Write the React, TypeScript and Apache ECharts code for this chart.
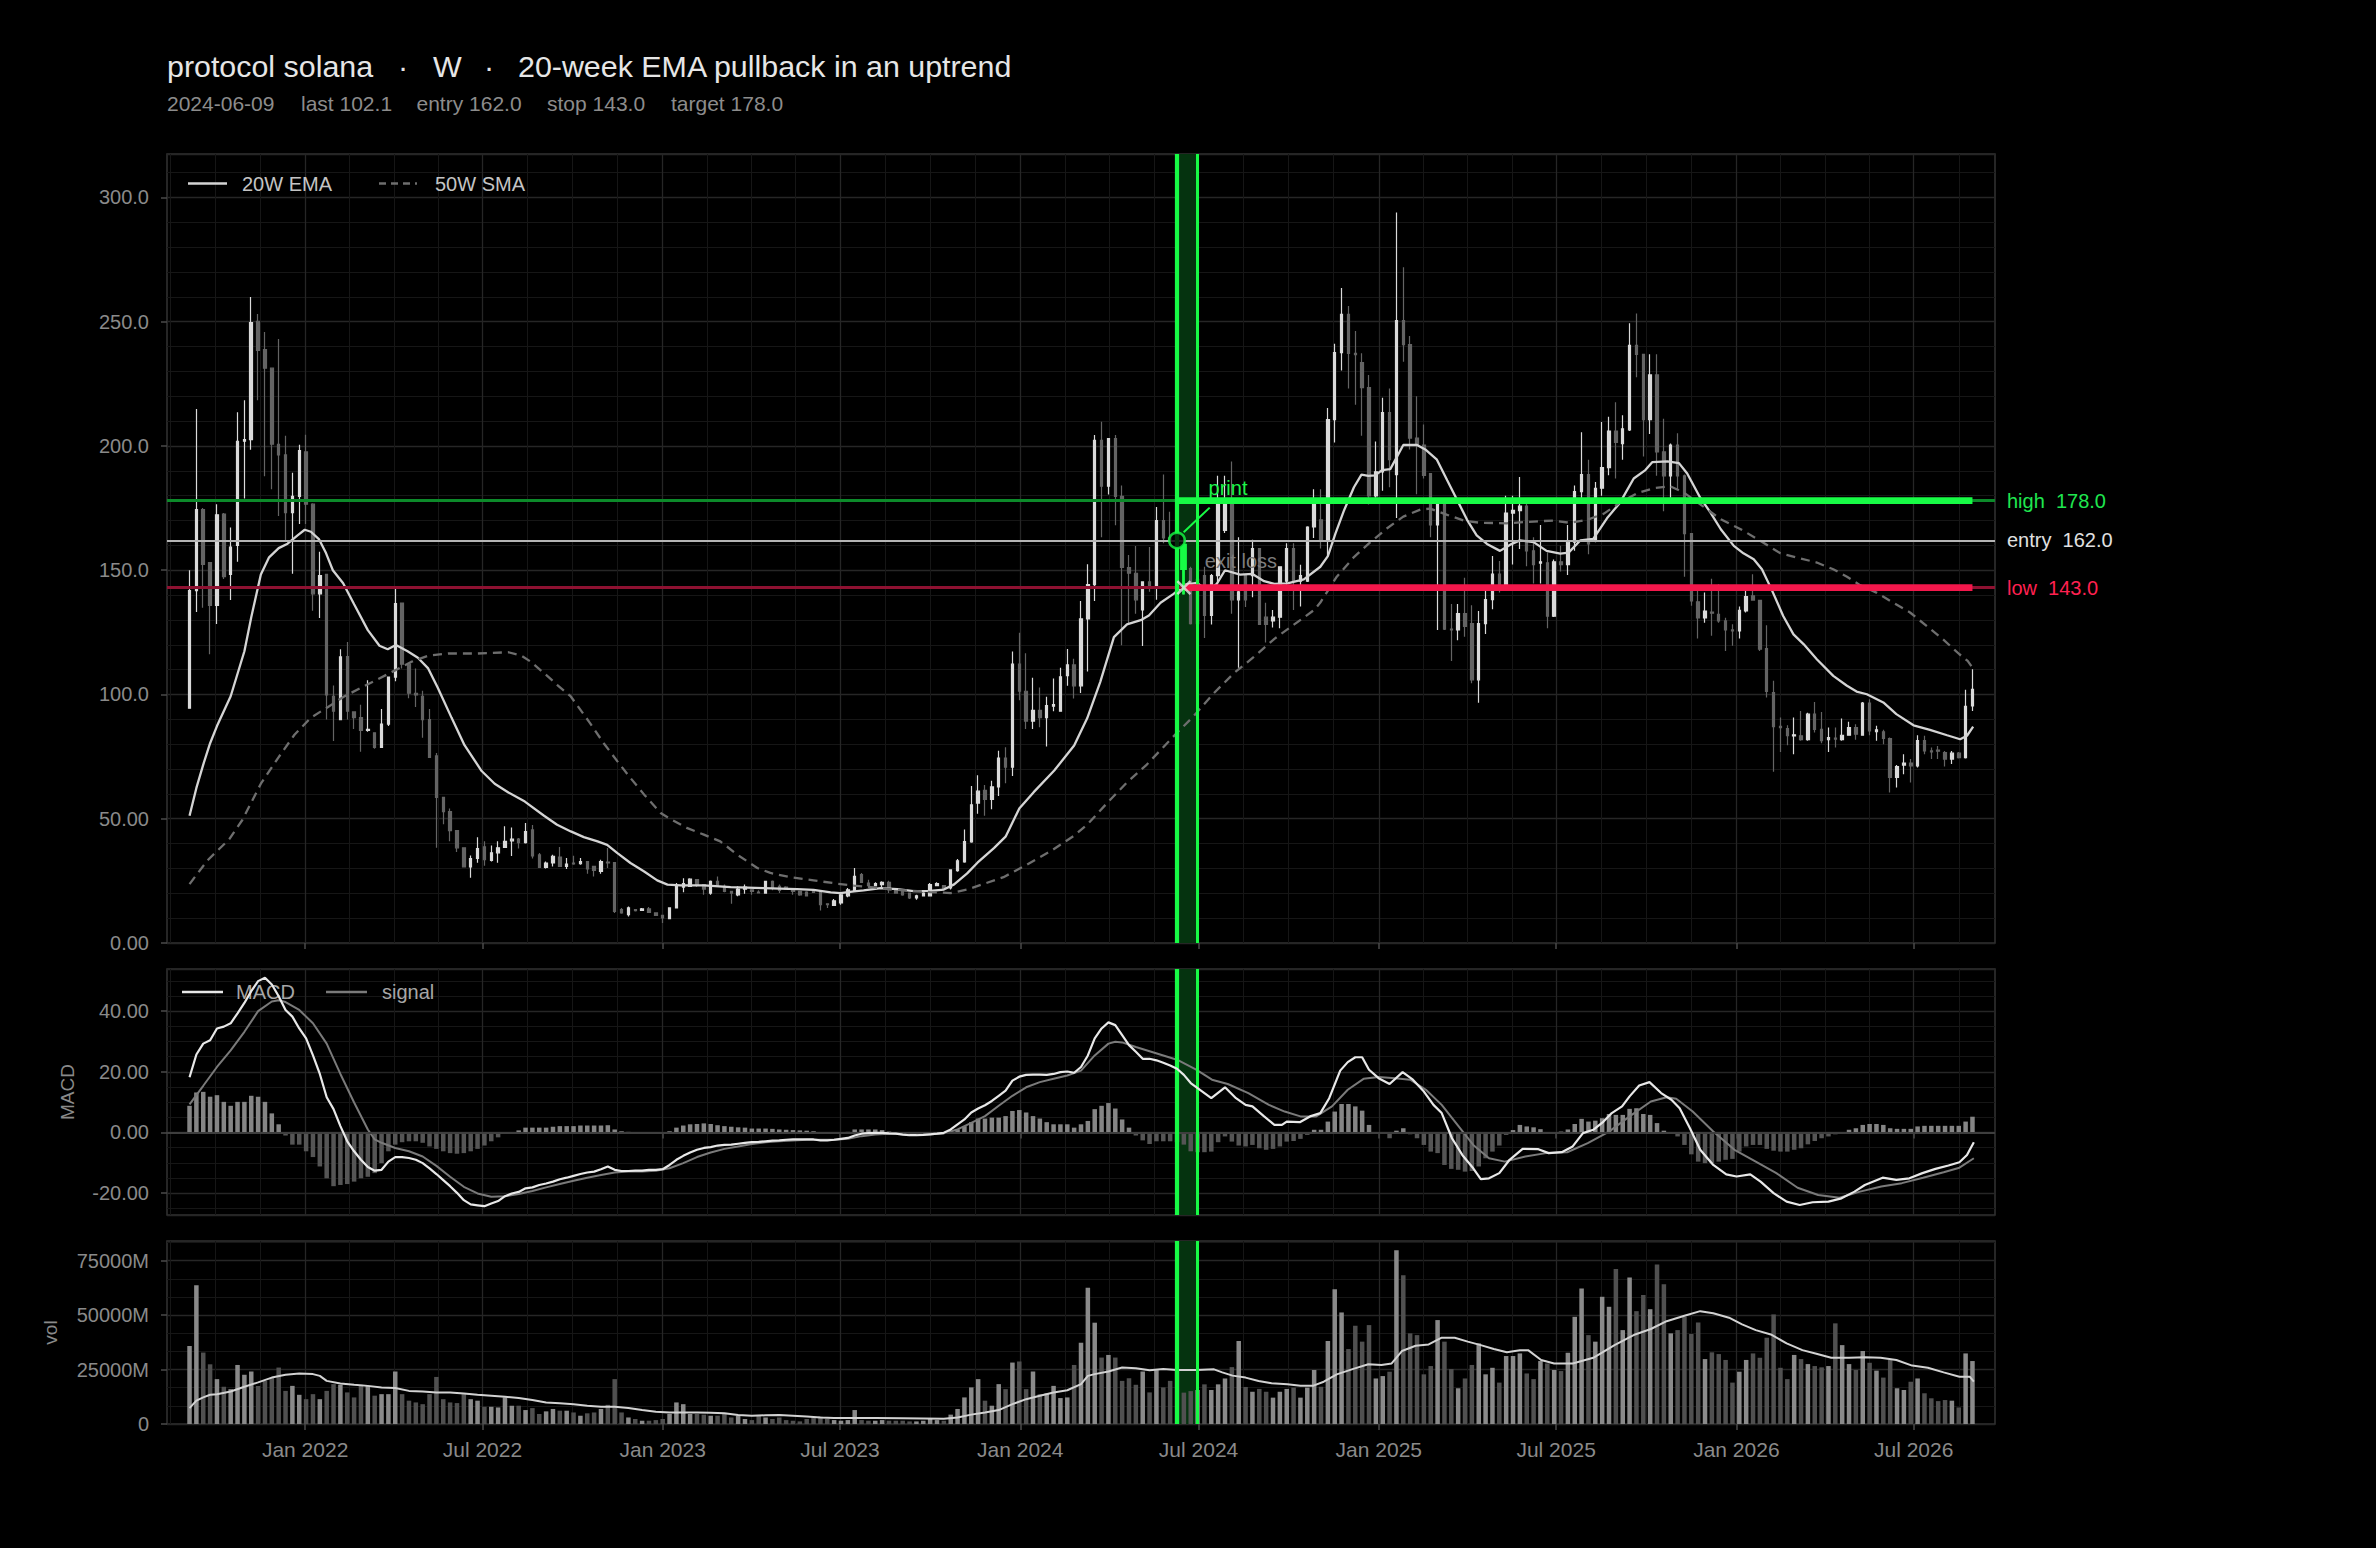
import React, { useEffect, useRef } from "react";
import * as echarts from "echarts";

// ---------- data ----------
const WEEK0 = "2021-09-05"; // first weekly bar (Sunday)
const X_MIN = "2021-08-13";
const X_MAX = "2026-09-22";

const opens = [
  94.5, 141.8, 174.4, 153.1, 135.9, 172.6, 148.3, 160, 201.9, 202.6,
  250.2, 238.8, 231.3, 200.7, 196.4, 173.2, 179.7, 197.6, 176.6, 140.5,
  148.3, 99.3, 89.9, 115.3, 93, 90.7, 85.6, 84.6, 78.7, 88.1,
  107, 136.8, 112.2, 100.5, 99.3, 89.9, 75.3, 58.6, 52.9, 45.2,
  38.3, 30.6, 34, 38.7, 33.2, 36.3, 38.5, 41.1, 41.8, 40.4,
  45.5, 35.5, 30.4, 32.2, 34.6, 30.8, 32.2, 31.9, 32.8, 30.8,
  28.8, 32.6, 32.4, 13.4, 11.4, 13.4, 13.1, 13.7, 12.1, 11.1,
  9.8, 14.1, 22.5, 22.8, 25.5, 23.5, 20.1, 24.8, 22.8, 20.8,
  19.4, 21.7, 21.4, 20.5, 20.1, 24.8, 22.8, 22.5, 21.7, 20.8,
  20.5, 21.4, 20.8, 15.8, 15.1, 16.1, 19, 21.2, 27.5, 24.1,
  23.1, 23.5, 24.4, 21.2, 20.8, 20.1, 18.1, 19, 19, 23.1,
  23.1, 22.2, 29.1, 32.6, 40.7, 56.3, 61.4, 57.8, 62.8, 74.4,
  70.8, 112.2, 101.3, 89.3, 93.6, 90.7, 95.3, 93.3, 107.6, 111.9,
  103.5, 130.4, 144.2, 202.3, 183.8, 203, 179.7, 151.1, 148.8, 134,
  145.3, 143.9, 170, 163, 162.2, 160.1, 150.7, 128.5, 147.8, 131.8,
  147.8, 166, 176.4, 138.1, 147.8, 147.8, 158.7, 131.1, 129.6, 131.1,
  145.6, 158.7, 145.6, 145.6, 167.4, 170.3, 161.6, 210.6, 237.6, 253,
  237.3, 233.6, 223.5, 179.9, 189.6, 213.4, 188.5, 250.5, 240.8, 203.2,
  200.4, 188.9, 168.2, 176.5, 126.3, 126, 132.6, 128.5, 105.9, 128.5,
  138.2, 148.4, 144.2, 173, 174, 175.8, 157.8, 152.9, 153, 131.5,
  153.4, 152.3, 161.3, 181.6, 188.5, 162, 183, 191.3, 206, 200.9,
  206.5, 240.5, 236.9, 210.6, 228.6, 197.6, 188, 200.4, 188, 164.7,
  137.3, 130.8, 133.2, 132.3, 129.6, 126, 125.6, 133.6, 139.7, 137.9,
  118.5, 100.8, 87.2, 86.3, 83.3, 83.4, 81.8, 92.1, 86, 81.8,
  82.5, 81.8, 83.6, 86.7, 83.6, 96.5, 85, 85, 82.3, 66.6,
  71.6, 72.4, 71.3, 81.4, 77.3, 77.6, 76.6, 74, 76.4, 74.6, 95.4,
];

const highs = [
  150, 214.9, 175, 153.1, 176.6, 173, 167.2, 213.6, 218.4, 260,
  253.1, 245.9, 231.3, 243.1, 204.1, 189.2, 200.5, 204.5, 177, 157.4,
  148.3, 103.6, 118.2, 121.1, 93, 95.9, 105.7, 84.6, 94.2, 107,
  143.1, 136.8, 112.2, 110.5, 101.5, 94.2, 76.5, 58.6, 54.1, 45.2,
  38.3, 35.2, 42.6, 40.9, 39.2, 40.9, 47, 46.5, 42.3, 48.3,
  47.5, 36.2, 32.8, 35.5, 38.6, 34.2, 35.1, 34.2, 32.8, 30.8,
  33.5, 38.2, 32.4, 14.1, 14.7, 13.5, 14.1, 14.5, 12.1, 11.1,
  14.1, 24.1, 26.1, 26.1, 25.5, 23.5, 25.2, 26.8, 23.5, 20.8,
  22.8, 23.5, 21.4, 21.2, 24.8, 25.2, 23.5, 22.8, 22.1, 21,
  20.8, 21.7, 20.8, 15.8, 17.7, 20.1, 22.1, 30.2, 28.2, 25.5,
  24.4, 24.8, 25.1, 21.4, 21, 20.1, 19.4, 20.4, 24.1, 24.4,
  23.3, 29.7, 33.8, 45.7, 63.2, 67.5, 63.6, 65.3, 77.4, 78.8,
  117.3, 124.8, 116.6, 106.7, 102.8, 99.1, 106.4, 110.8, 118.3, 114.4,
  137.6, 152.4, 204.4, 209.8, 203, 204.4, 184.1, 156.1, 159.8, 145.3,
  159.4, 175.4, 188.5, 173.5, 166, 160.1, 151.4, 150.7, 151.4, 148.5,
  188, 188, 193.8, 163.3, 147.8, 162.3, 158.7, 136.9, 134, 151.4,
  160.9, 160.9, 152.2, 167.7, 182.6, 182.6, 215.3, 241.1, 263.6, 256.3,
  246.3, 237.3, 228.6, 201.8, 219.4, 223.1, 294, 271.9, 244.3, 220,
  208.6, 188.9, 178.6, 176.5, 136.4, 136.4, 147, 135.9, 133.6, 141.9,
  155.7, 153.7, 180, 180, 187.5, 177.2, 163.3, 168.2, 157.1, 154.3,
  159.9, 168.2, 184.1, 205.5, 194.5, 185.5, 209.7, 211.8, 217.6, 212.4,
  249.4, 253.3, 236.9, 236.9, 236.9, 211, 201, 205.1, 188.5, 164.7,
  141.9, 141, 146.6, 144.4, 130.9, 128.3, 135.4, 143, 148.4, 137.9,
  127.9, 105.5, 90.7, 87.6, 90.7, 93.4, 92.7, 97, 93, 86.7,
  86.7, 90.3, 89, 88, 97, 98.1, 87.4, 85.8, 82.7, 71.6,
  76, 74, 83.6, 83.4, 78.7, 79.3, 77.3, 77.3, 76.9, 101.9, 110.2,
];

const lows = [
  94.5, 133.2, 134.9, 116.2, 128.4, 146.5, 138, 153.4, 178.9, 198.5,
  218.4, 187.8, 182.6, 171.8, 162, 148.6, 168.6, 168.6, 133.7, 130.8,
  89.9, 81.3, 89.9, 89.9, 86.1, 77, 85, 78.2, 78.5, 87.3,
  105.3, 110.5, 98.5, 95, 82.6, 74.4, 38.3, 47.8, 40.9, 36.6,
  30.6, 26.3, 32.3, 31.1, 32.8, 32.3, 38.3, 35, 38, 40,
  34, 30.2, 30, 30.8, 30.8, 29.8, 31.5, 31.5, 27.9, 26.8,
  27.9, 30.2, 12.1, 11.8, 10.7, 12.7, 13, 12.1, 11.1, 8,
  9.8, 14.1, 20.4, 22.5, 22.5, 19.4, 19.4, 22.8, 20.4, 15.8,
  18.8, 19.8, 19.4, 20, 20.1, 21.2, 20.1, 21.4, 19.4, 19,
  18.8, 20.1, 13.1, 14.1, 15.1, 15.4, 18.4, 20.8, 24.1, 22.1,
  22.8, 22.5, 20.1, 19.8, 19, 17.7, 17.4, 18.8, 19, 22.8,
  21.5, 21.5, 28.7, 32.3, 40.3, 52, 51.2, 53.8, 59.2, 64.3,
  67.2, 97.7, 86.1, 86.1, 86.8, 79.1, 93.3, 93.3, 103.5, 98.4,
  100.6, 109.3, 137.6, 163.3, 180.5, 168.1, 119.8, 128.5, 132.5, 119.5,
  141.3, 138.1, 160.9, 161.6, 155, 140.2, 128.2, 123.8, 122.7, 128.2,
  145.6, 165, 132.5, 110.8, 135.2, 139.1, 128.2, 120.9, 127, 126.7,
  144.2, 134, 135.4, 145.3, 163, 158.7, 155.8, 201.4, 230.4, 223.1,
  216.6, 204.1, 176.5, 179.2, 182, 183.4, 171, 233.9, 198.6, 180.6,
  186.9, 163.3, 126, 126, 113.5, 121.8, 123.2, 104.5, 96.7, 124.3,
  134.3, 141, 144.2, 152.3, 158.5, 151.6, 144.7, 144.7, 126.7, 131.2,
  149.5, 148.1, 157.8, 178.6, 156.4, 161.3, 180, 188.2, 186.9, 194.5,
  206, 227.7, 195.8, 204.8, 188, 173.7, 179.2, 182.7, 147.4, 135.7,
  122.5, 128.9, 123.6, 128.9, 117.5, 119.6, 122.5, 133, 138, 117.5,
  98.8, 68.9, 76.9, 79.6, 76, 81.4, 81.4, 84.7, 80.4, 76.9,
  78.7, 81.4, 83.4, 81.8, 83.4, 83.6, 81.4, 80, 60.6, 62.6,
  67.9, 64.6, 70.6, 76, 74, 74, 71, 72, 74.2, 74.2, 93.4,
];

const closes = [
  141.8, 174.4, 152.4, 135.9, 172.3, 147.4, 159.3, 201.9, 202.6, 249.7,
  238.5, 231.3, 200.7, 196.4, 173.2, 179.7, 198.1, 176.6, 140.5, 147.8,
  99.8, 93.3, 115.1, 93.3, 90.7, 85.6, 86, 78.7, 88.1, 107,
  136.6, 112.2, 100.5, 99.8, 89.9, 74.7, 58.6, 52.9, 45.2, 38.3,
  30.6, 34, 38, 33.5, 36.3, 38.3, 40.9, 41.8, 40.4, 44.8,
  35, 30.4, 32.2, 34.9, 30.8, 31.8, 31.8, 32.8, 29.8, 29.2,
  32.8, 32.2, 12.7, 12.1, 14.1, 13, 13.7, 12.3, 11.1, 10.1,
  14.1, 23.1, 23.9, 25.7, 23.5, 21.7, 24.8, 23.1, 20.8, 20.1,
  21.7, 22.5, 20.8, 20.2, 24.8, 22.1, 21.2, 21.7, 20.8, 19.4,
  19, 20.4, 15.4, 15.4, 17, 19.4, 21.4, 26.8, 24.4, 23.1,
  23.9, 24.4, 21.4, 20.1, 19.4, 18.1, 19, 20.1, 23.5, 23.9,
  22, 29.4, 33.1, 40.8, 55.6, 61.1, 57.8, 62.8, 74.4, 70.8,
  112.2, 101.3, 89.3, 93.6, 90.7, 95.5, 95.9, 107.1, 111.9, 103.5,
  130.4, 144.2, 202.3, 183.8, 203, 179.7, 151.1, 148.8, 138.1, 145.3,
  143.9, 170, 163, 162.2, 160.1, 150.7, 128.5, 146.3, 131.8, 147.8,
  178.3, 177.5, 138.1, 141.3, 138.1, 158.7, 128.2, 128.2, 131.1, 151.4,
  158.7, 145.6, 147.8, 167.4, 176.8, 161.6, 210.6, 237.6, 253, 237.3,
  236.8, 223.5, 179.9, 189.6, 213.4, 194.5, 250.5, 240.8, 203.2, 200.4,
  188.2, 168.2, 177.9, 126.3, 126, 132.6, 127.4, 105.9, 128.5, 138.2,
  148.4, 144.2, 173, 174.1, 175.8, 157.8, 152.3, 153.4, 131.5, 153.4,
  152.3, 161.3, 181.6, 188.5, 160.6, 183, 191.3, 206, 201.4, 206.9,
  240.5, 236.9, 210.6, 228.6, 197.6, 188, 200.4, 188, 164.7, 137.7,
  130.8, 133.6, 132.7, 129.6, 126, 125.6, 133.9, 139.4, 138, 118.2,
  101.2, 87.1, 86.7, 83.4, 83.8, 81.8, 92.1, 86, 81.4, 82.7,
  82, 83.6, 86.7, 84, 96.5, 85.4, 85.8, 82.3, 66.6, 71,
  72.4, 71.3, 81.4, 77.3, 76.9, 77.2, 74, 76.4, 74.6, 95.2, 102.1,
];

// weekly volume, in millions
const volumes = [
  35800, 63700, 32800, 27400, 20600, 17100, 16000, 27100, 22600, 24100,
  17500, 19800, 21300, 25900, 15200, 17500, 13400, 11400, 13700, 11400,
  15200, 18300, 18000, 14500, 12200, 18000, 17500, 13000, 13700, 13700,
  24100, 13700, 10700, 9900, 9100, 13700, 21600, 11400, 9900, 9600,
  13700, 11400, 10700, 7900, 7900, 7600, 12200, 8400, 8400, 6400,
  7300, 4600, 5800, 6900, 6100, 6100, 5300, 3800, 4900, 5300,
  6900, 8800, 20600, 5300, 3000, 2300, 1500, 1500, 1800, 2300,
  4600, 9900, 9100, 4600, 4600, 4300, 3800, 3800, 4900, 3000,
  3800, 2300, 1800, 3800, 3000, 2300, 3000, 1800, 1500, 1200,
  2300, 3000, 3400, 2300, 1800, 1500, 1800, 6400, 1800, 1500,
  1500, 1800, 1500, 1500, 1500, 1200, 1200, 1500, 2300, 1800,
  1500, 4300, 6900, 12200, 16800, 20600, 10700, 8400, 18300, 16000,
  28200, 28700, 16000, 24100, 13700, 14000, 17500, 11900, 12200, 27100,
  37300, 62500, 46500, 30500, 31700, 30500, 19800, 21000, 18000, 24100,
  14500, 24700, 16800, 19800, 25000, 14400, 15100, 15600, 18200, 15600,
  18200, 20900, 26100, 38100, 17000, 14800, 16100, 14800, 12100, 14800,
  16100, 16700, 12100, 16700, 24800, 17100, 38100, 61900, 51200, 34400,
  45100, 37800, 45400, 20900, 22000, 24000, 79800, 68300, 41600, 40800,
  22800, 26600, 47700, 37800, 25200, 16400, 20900, 27100, 37000, 22800,
  25800, 19000, 31200, 31200, 32400, 23200, 20600, 28900, 27800, 24800,
  24300, 32700, 49200, 62200, 40800, 37800, 58400, 53800, 71100, 43100,
  67300, 51800, 59200, 52700, 73200, 64100, 41600, 43100, 49200, 41300,
  46600, 29800, 32900, 32100, 29400, 19000, 24000, 29400, 32400, 30400,
  39600, 50300, 25800, 20600, 31700, 29800, 27500, 26600, 26000, 26600,
  46200, 36200, 27500, 24800, 33500, 28100, 24500, 21300, 29400, 16400,
  15600, 19400, 20900, 14100, 11800, 10500, 11000, 10700, 7600, 32400, 28900,
];

const macdHist = [
  8.8, 13.2, 13.4, 11.8, 12.3, 10.1, 8.8, 10.1, 10.1, 12.1,
  11.8, 10.1, 6.3, 2.7, -1, -4, -4, -6.2, -8.1, -11.2,
  -15.1, -17.7, -17.3, -17, -16.2, -15.1, -14.6, -13.4, -10.1, -6.2,
  -4, -3.2, -2.9, -2.9, -3.4, -4.6, -5.4, -6.2, -6.8, -7,
  -6.8, -6.2, -5.4, -4.3, -2.9, -1.6, -0.4, 0, 0.7, 1.6,
  1.6, 1.6, 1.6, 1.9, 2.1, 2.1, 2.1, 2.3, 2.3, 2.3,
  2.3, 2.4, 1, 0.4, 0.2, 0.1, 0.1, 0.1, 0.1, 0.1,
  0.4, 1.6, 2.3, 2.7, 2.8, 3, 2.8, 2.4, 2.1, 1.9,
  1.7, 1.6, 1.3, 1.3, 1.3, 1.2, 1, 0.9, 0.8, 0.7,
  0.6, 0.4, 0.1, 0, -0.1, 0, 0.2, 1, 1, 1,
  1, 0.8, 0.3, 0.1, -0.2, -0.3, -0.3, -0.2, -0.1, 0,
  0.1, 0.1, 1, 2.1, 3.4, 4.6, 4.6, 4.9, 4.9, 5.4,
  7.1, 7.4, 6.6, 5.4, 4.6, 3.4, 2.7, 2.7, 2.7, 1.6,
  2.7, 3.8, 7.7, 8.8, 9.7, 7.9, 4.3, 1.6, -1, -2.6,
  -3.8, -2.9, -2.9, -2.9, -3.2, -4, -6.2, -6.5, -6.5, -6.3,
  -3.2, -1.3, -3, -4.3, -4.6, -4.1, -5.2, -5.7, -5.4, -4.6,
  -3, -2.8, -2.1, -0.8, 0.9, 0.9, 3.6, 6.9, 9.4, 9.4,
  8.6, 7.2, 2.5, 0, 0, -1.9, 0.6, 1.4, -0.6, -1.9,
  -4.1, -6.3, -6.8, -10.7, -12, -12.3, -12.9, -12.7, -11.2, -8.5,
  -6.3, -4.3, -0.8, 0.8, 2.5, 2, 1.7, 1.1, 0, 0,
  0.3, 1, 2.8, 4.5, 3.6, 3.9, 4.7, 6.1, 5.8, 5.8,
  7.8, 8, 6.1, 5.8, 3.1, 0.6, 0, -1.3, -4.1, -7.2,
  -9.6, -10.1, -10.1, -9.6, -9, -8.7, -6.3, -4.6, -4.1, -4.1,
  -5.4, -6, -6.3, -6.3, -5.7, -5.2, -3.9, -2.8, -1.9, -1.3,
  -0.6, 0, 0.9, 1.4, 2.5, 2.8, 2.8, 2.5, 1.4, 1.2,
  1.2, 1.2, 2, 2.2, 2.2, 2.2, 2.2, 2.2, 2.2, 3.6, 5.2,
];

// MACD line: one value per week for weeks 0..143, then [week, value] points
const macdEarly = [
  18.2, 25.7, 29.3, 30.4, 34.3, 34.9, 36, 39.3, 42.7, 46.6,
  49.9, 51, 48.8, 44.9, 40.4, 38.2, 34.3, 31, 25.4, 19.3,
  11.6, 7.7, 2.1, -2.9, -6.2, -9, -11.4, -12.6, -12.3, -9.6,
  -8.1, -8.1, -8.4, -9, -10.1, -11.8, -13.7, -15.7, -17.7, -19.9,
  -22.3, -23.7, -24, -24.3, -23.4, -22.6, -21, -20.1, -19.6, -18.4,
  -18.1, -17.3, -16.8, -16.2, -15.4, -14.9, -14.3, -13.7, -13.2, -12.9,
  -12.1, -11.2, -12.3, -12.7, -12.7, -12.6, -12.6, -12.3, -12.3, -12.1,
  -10.7, -9, -7.7, -6.6, -5.7, -5.1, -4.8, -4.3, -4.1, -4,
  -3.7, -3.4, -3.2, -3.1, -2.9, -2.7, -2.6, -2.4, -2.3, -2.3,
  -2.3, -2.3, -2.6, -2.6, -2.4, -2.1, -1.8, -1, -0.4, -0.2,
  -0.1, -0.1, -0.3, -0.4, -0.7, -0.9, -0.9, -0.8, -0.6, -0.4,
  -0.1, 1, 2.7, 4.3, 6.6, 7.9, 9, 10.4, 12.1, 13.8,
  17.1, 18.4, 19, 19.1, 19.1, 19, 19.3, 19.9, 20.1, 19.7,
  21.6, 25.4, 31, 34.3, 36.3, 35.4, 32.1, 28.8, 26.6, 24.3,
  24.3, 23.8, 23, 22.1,
];
const macdLate = [
  [144, 21], [145, 19], [146, 16.3], [147, 14.6], [149, 11.3], [151, 14.9], [152.6, 11.3], [154, 9.1],
  [155, 8.6], [156.7, 5.3], [158.2, 2.5], [159.3, 2.5], [160, 3.6], [161.9, 3.4], [163.4, 5.3], [164.9, 6.4],
  [166.2, 11.3], [167.8, 20.4], [168.9, 23.2], [170, 24.8], [171, 24.8], [172, 20.7], [173.4, 17.9], [175, 16],
  [176.9, 19.9], [178.4, 17.4], [179.9, 13.8], [181.4, 9.1], [182.6, 6.4], [184.1, -1.9], [185.6, -7.4],
  [187.2, -11.8], [188.3, -15.4], [189.5, -15.1], [191, -13.4], [192.5, -9], [194.4, -5.4], [196.7, -5.5],
  [198.2, -6.8], [200.1, -6.5], [201.7, -4.6], [203.2, -0.2], [204.7, 0.9], [206.2, 3.6], [207.4, 6.4],
  [208.9, 8.6], [210, 11.9], [211.4, 15.5], [212.9, 16.6], [214.6, 13], [216.1, 10.8], [217.3, 8],
  [218.8, 1.4], [220.3, -5.7], [222.2, -10.7], [224.1, -13.8], [225.6, -14.5], [227.6, -13.8], [229.1, -16.2],
  [231, -20], [232.9, -22.8], [234.8, -23.9], [236.7, -23], [239, -22.8], [240.9, -21.7], [242.8, -19.5],
  [244.3, -17.3], [246.9, -14.9], [248.9, -15.6], [250.8, -15.1], [252.7, -13.4], [254.6, -12], [256.5, -10.9],
  [258.1, -9.8], [259.2, -7.4], [260.2, -3.2],
];
const signalLine = [
  [0, 9.3], [2, 15.4], [4, 21.6], [6, 27.1], [8, 33.2], [10, 40], [12, 43.2], [13, 43.6], [14, 43], [16, 40.4],
  [18, 36], [20, 29.3], [22, 19.3], [24, 9.9], [26, 1], [27, -2.3], [28, -3.4], [30, -5.1], [32, -6.2], [34, -7.9],
  [36, -11], [38, -14.6], [40, -17.9], [42, -20.1], [44, -21.2], [46, -21], [48, -20.3], [50, -19.3], [52, -18.1],
  [54, -17], [56, -15.9], [58, -14.9], [60, -14], [62, -13.2], [64, -12.9], [66, -12.9], [68, -12.6], [70, -11.8],
  [72, -10.1], [74, -8.1], [76, -6.6], [78, -5.4], [80, -4.6], [82, -3.8], [84, -3.2], [86, -2.9], [88, -2.6],
  [90, -2.4], [92, -2.4], [94, -2.4], [96, -2.1], [98, -1.2], [100, -0.7], [102, -0.4], [104, -0.4], [106, -0.7],
  [108, -0.6], [110, -0.3], [112, 1], [114, 3.2], [116, 5.4], [118, 8.8], [120, 12.1], [122, 14.9], [124, 16.6],
  [126, 17.7], [128, 18.8], [130, 20.4], [132, 25.4], [134, 29.3], [135, 29.9], [136, 29.7], [138, 28.2],
  [140, 26.8], [142, 25.4], [144, 24], [146.8, 20.7], [149.1, 17.4], [151.4, 16], [154.4, 13], [157.4, 9.1],
  [159.7, 6.9], [162, 5.3], [164.3, 5.3], [166.6, 8.6], [168.9, 14.1], [171.2, 17.7], [173.4, 18.3], [175.8, 17.9],
  [178, 17.4], [180.3, 14.1], [182.6, 9.1], [184.9, 2.5], [187.2, -4.1], [189.5, -8.5], [191.8, -9.6],
  [194.8, -7.9], [197.8, -6.8], [200.9, -6.5], [203.9, -3.5], [207, 0.3], [210, 5.3], [213.1, 10.2],
  [215.4, 11.6], [216.8, 11.1], [219.2, 6.9], [222.2, 0.3], [225.3, -5.7], [228.4, -9.6], [231.4, -13.4],
  [234.5, -18.2], [237.5, -20.6], [240.6, -21.5], [243.6, -19.5], [246.7, -17.8], [249.7, -16.7],
  [252.8, -14.9], [255.8, -13.1], [258.1, -11.6], [260.2, -8.5],
];

// 20-week EMA and 50-week SMA, as [week, value]
const ema20 = [
  [0, 51.2], [1, 62.4], [2, 71.8], [3, 80.4], [4, 87.3], [6, 99.3], [8, 117.4], [9, 131.1], [10.4, 148.3],
  [11.6, 155.2], [13, 158.9], [14.3, 160.7], [15.8, 164.1], [16.8, 166.3], [17.7, 165.5], [18.9, 162.4],
  [19.9, 156.9], [20.9, 150], [22.4, 144.8], [24, 136.3], [26, 125.9], [27.7, 119.6], [28.9, 118.2],
  [30.1, 119.9], [31.8, 117.4], [33.3, 114.8], [34.8, 110.5], [36.2, 102.7], [38.2, 90.7], [40.1, 79.6],
  [42.6, 69.2], [44.5, 64.1], [46.5, 60.6], [48.9, 56.9], [51.7, 51.2], [53.6, 47.6], [55.6, 44.9],
  [57.5, 42.6], [59.5, 40.9], [60.9, 39.5], [62.4, 36.2], [64.3, 32.2], [66.3, 28.8], [68.2, 25.2],
  [69.7, 23.5], [71.6, 23.2], [75, 23.2], [78.9, 22.5], [83.7, 22.1], [88.6, 21.7], [91, 21.4], [93.5, 20.4],
  [94.9, 20.1], [96.9, 20.8], [98.3, 21.2], [100.8, 22.1], [103.2, 21.7], [105.6, 20.9], [108, 21],
  [110, 21.5], [111.5, 23.6], [113.4, 28], [114.9, 32.3], [117.3, 38.2], [119, 42.8], [121, 54.1],
  [123.1, 60.7], [126.1, 69.4], [129, 79.5], [130.9, 90.4], [132.8, 105], [134.8, 123.1], [136.7, 128.2],
  [138.7, 129.9], [139.9, 131.8], [141.6, 136.9], [143.5, 140.5], [145.2, 144.2], [146.9, 144.9],
  [148.4, 142], [149.8, 144.5], [151, 150], [153.2, 148.2], [155, 148.5], [156.7, 145.6], [158.2, 144.5],
  [160.1, 144.7], [162.5, 146.3], [164.9, 151.4], [166, 155.7], [167.1, 164.7], [168.3, 173.7],
  [169.8, 183.4], [170.9, 188.5], [171.9, 188], [172.9, 188.2], [173.9, 190.3], [175.1, 190.7],
  [176.1, 195.8], [177, 200.4], [179, 200.4], [180.2, 198.6], [181.9, 194.5], [183.4, 186.2],
  [184.8, 178.6], [186.3, 170.3], [187.7, 164], [189.2, 160.6], [191.1, 157.8], [192.6, 160.3], [194, 162],
  [196, 161.3], [197.9, 157.8], [199.9, 156.7], [201.1, 157.1], [202.8, 162], [204.7, 162.6],
  [206.7, 170.9], [208.6, 177.2], [210.6, 186.9], [212.3, 190.3], [213.3, 193.5], [215.5, 193.8],
  [217.2, 193.1], [218.4, 188.9], [220.3, 179.2], [221.8, 173.2], [223.3, 166.5], [225.2, 159.8],
  [226.6, 156.8], [228.1, 154.4], [229.3, 150.4], [230.7, 142.3], [232.4, 131.6], [233.9, 124.2],
  [235.4, 120.2], [237.3, 114.2], [239.7, 107.5], [241.7, 103.5], [243.1, 101.2], [244.6, 100.1],
  [247, 96.8], [248.9, 92.1], [251.4, 87.6], [253.8, 85.8], [256.3, 83.6], [258.2, 82], [259.2, 83.4],
  [260.1, 87.1],
];
const sma50 = [
  [0, 23.7], [2.6, 33.2], [5.8, 41.8], [7.7, 49.5], [10.4, 64.1], [12.9, 74.4], [15.3, 83.8], [17.7, 90.7],
  [20.2, 95], [22.6, 99.3], [25, 102.7], [27.5, 106.2], [29.9, 109.6], [32.3, 113.1], [34.8, 115.6],
  [37.7, 116.5], [42, 116.5], [46.5, 117], [48.4, 115.6], [49.7, 113.3], [51.7, 108.6], [53.6, 103.9],
  [55.6, 99.2], [58.4, 88.5], [60.4, 80.4], [62.4, 73.1], [64.3, 66.4], [66.3, 59.7], [68.7, 52.3],
  [70.1, 49.9], [72.6, 46.2], [75, 43.6], [77.4, 40.9], [79.9, 35.5], [82.8, 30.2], [84.7, 28.2],
  [87.6, 26.5], [91, 25.2], [94.4, 23.9], [96.9, 23.1], [99.3, 22.5], [103.2, 21.4], [108, 20.5],
  [111, 20.1], [113.4, 21.5], [118.7, 26.5], [121.7, 30.9], [125.6, 37], [129, 43.2], [130.9, 47.6],
  [133.8, 56.3], [136.7, 64.6], [139.6, 71.8], [142, 78.8], [144, 84.6], [146.4, 91.2], [149.4, 100.6],
  [152.3, 108.6], [155.2, 115.1], [158.2, 122.4], [161.1, 128.2], [164, 134], [164.9, 137], [167.3, 147.4],
  [169.8, 155.3], [172.2, 161.3], [174.6, 166.8], [177, 171.6], [179.5, 174.4], [180.9, 174.8],
  [183.4, 172.3], [185.8, 170], [188.2, 169.1], [192.1, 168.9], [196, 169.6], [198.9, 170], [201.3, 169.1],
  [203.8, 170.3], [206.2, 172.7], [208.6, 177.2], [211.1, 181], [213.5, 183], [215.9, 183.8],
  [217.9, 181.3], [220.3, 176.5], [223.3, 170.5], [226.2, 166.5], [229.1, 161.8], [232, 156.8],
  [235, 154.7], [237.3, 153.1], [239.7, 150.4], [241.7, 147.4], [243.6, 144], [246, 141], [248.4, 137],
  [250.9, 133], [253.3, 127.6], [255.7, 122.2], [258.1, 116.2], [259.3, 113.5], [260, 110.8],
];
const volMa = [
  [0, 7300], [1, 10700], [2, 12200], [3, 13400], [4, 13700], [6, 14900], [8, 17100], [10, 19100], [12, 21300],
  [14, 22600], [16, 23200], [18, 22900], [19, 22100], [20, 19800], [22, 18600], [24, 18000], [26, 17500],
  [28, 16800], [30, 16500], [32, 15200], [34, 14900], [36, 14500], [38, 14500], [40, 14000], [42, 13400],
  [44, 13000], [46, 12500], [48, 11900], [50, 11000], [52, 9900], [54, 9500], [56, 9100], [58, 8400],
  [60, 7900], [62, 7900], [64, 7300], [66, 6400], [68, 5600], [70, 5300], [74, 5300], [76, 5200], [78, 4900],
  [80, 4100], [82, 3800], [84, 4000], [86, 4100], [88, 3800], [90, 3400], [92, 3000], [94, 2700],
  [100, 2700], [104, 2600], [110, 2400], [112, 3000], [114, 4300], [116, 5300], [118, 6400], [120, 9100],
  [122, 11400], [124, 13000], [126, 14500], [128, 15500], [130, 18300], [131, 22100], [132, 22900],
  [134, 24100], [136, 25900], [138, 25600], [140, 24700], [142, 25200], [144, 24800], [146.8, 24800],
  [149.4, 25100], [150.6, 23700], [152.1, 22200], [154, 21300], [155.9, 19700], [157.8, 18700],
  [160.1, 18300], [162, 17600], [163.9, 17600], [165.4, 19400], [167.3, 22800], [169.6, 25200],
  [171.9, 27400], [173.8, 27100], [175.3, 27800], [176.8, 33500], [178.8, 35900], [180.7, 36500],
  [182.6, 39600], [184.5, 39600], [186.4, 37800], [188.3, 36200], [190.2, 34400], [192.1, 32900],
  [194, 33900], [195.2, 33900], [197.1, 29400], [199, 27800], [201.7, 27800], [204.7, 30400],
  [207.8, 36200], [210.8, 41100], [213.1, 43600], [215.4, 47200], [218, 49700], [220.3, 51800],
  [222.2, 50800], [224.5, 48800], [226.4, 45700], [228.4, 43100], [230.6, 41100], [232.9, 37000],
  [235.2, 33900], [237.1, 32400], [239.4, 30400], [242, 30400], [244.4, 30600], [246.6, 30400],
  [248.9, 29400], [251.2, 26800], [253.5, 25800], [255.8, 23700], [258.1, 21700], [259.6, 21700],
  [260.2, 19400],
];

// trade levels
const ENTRY = 162.0;
const STOP = 143.0;
const TARGET = 178.0;
const LAST = 102.1;
const ENTRY_WEEK = 144; // 2024-06-09
const EXIT_WEEK = 145;
const BAND_END_WEEK = 147;
const LAST_WEEK = 260;

const MONTHS = ["Jan", "Feb", "Mar", "Apr", "May", "Jun", "Jul", "Aug", "Sep", "Oct", "Nov", "Dec"];

// ---------- helpers ----------
const FONT = "'Liberation Sans', Arial, Helvetica, sans-serif";
const DAY = 86400000;
const T0 = Date.parse(WEEK0 + "T00:00:00Z");
const wk = (w: number) => T0 + w * 7 * DAY;
const xMin = Date.parse(X_MIN + "T00:00:00Z");
const xMax = Date.parse(X_MAX + "T00:00:00Z");

const majorTicks: number[] = [];
const minorTicks: number[] = [];
for (let y = 2021; y <= 2026; y++) {
  for (const m of [0, 6]) {
    const a = Date.UTC(y, m, 1);
    const b = m === 0 ? Date.UTC(y, 6, 1) : Date.UTC(y + 1, 0, 1);
    if (a > xMin && a < xMax) majorTicks.push(a);
    for (const f of [0.25, 0.5, 0.75]) {
      const t = a + (b - a) * f;
      if (t > xMin && t < xMax) minorTicks.push(t);
    }
  }
}

const GREEN = "#17fb45";
const GREEN_DIM = "#0c8a2a";
const RED = "#f3174b";
const RED_DIM = "#8e1131";
const UP = "#dadada";
const DOWN = "#646464";
const LABEL = "#8a8a8a";
const GRID_MAJOR = "#262626";
const GRID_MINOR = "#161616";

const GRIDS = [
  { left: 167, top: 154, width: 1828, height: 789 },
  { left: 167, top: 969, width: 1828, height: 246 },
  { left: 167, top: 1241, width: 1828, height: 183 },
];

function fmtDate(v: number) {
  const d = new Date(v);
  return MONTHS[d.getUTCMonth()] + " " + d.getUTCFullYear();
}

function buildOption() {
  const candleData = opens.map((o, i) => [wk(i), o, closes[i], lows[i], highs[i]]);
  const histData = macdHist.map((v, i) => [wk(i), v]);
  const volData = volumes.map((v, i) => [wk(i), v]);
  const toXY = (arr: number[][]) => arr.map(([w, v]) => [wk(w), v]);
  const macdData = macdEarly.map((v, i) => [wk(i), v]).concat(toXY(macdLate));

  const xAxes: any[] = [];
  GRIDS.forEach((_, gi) => {
    xAxes.push({
      type: "value",
      gridIndex: gi,
      min: xMin,
      max: xMax,
      position: "bottom",
      axisLine: { show: false },
      axisTick: { show: true, customValues: majorTicks, length: 6, lineStyle: { color: "#4a4a4a", width: 1.5 } },
      axisLabel: {
        show: gi === 2,
        customValues: majorTicks,
        formatter: (v: number) => fmtDate(v),
        color: LABEL,
        fontSize: 21,
        fontFamily: FONT,
        margin: 15,
      },
      splitLine: { show: true, lineStyle: { color: GRID_MAJOR, width: 1.3 } },
      minorTick: { show: false },
      minorSplitLine: { show: false },
    });
    xAxes.push({
      type: "value",
      gridIndex: gi,
      min: xMin,
      max: xMax,
      position: "top",
      axisLine: { show: false },
      axisTick: { show: false, customValues: minorTicks },
      axisLabel: { show: false, customValues: minorTicks },
      splitLine: { show: true, lineStyle: { color: GRID_MINOR, width: 1 } },
    });
  });

  const yCommon = {
    type: "value",
    axisLine: { show: false },
    axisTick: { show: true, length: 6, lineStyle: { color: "#4a4a4a", width: 1.5 } },
    splitLine: { show: true, lineStyle: { color: GRID_MAJOR, width: 1.3 } },
    minorSplitLine: { show: true, lineStyle: { color: GRID_MINOR, width: 1 } },
  };
  const labelStyle = { color: LABEL, fontSize: 20, fontFamily: FONT, margin: 18, showMaxLabel: false };

  const yAxes = [
    {
      ...yCommon,
      gridIndex: 0,
      min: 0,
      max: 317.5,
      interval: 50,
      minorTick: { show: false, splitNumber: 5 },
      axisLabel: {
        ...labelStyle,
        formatter: (v: number) => (Math.abs(v % 50) < 1e-6 ? (v >= 100 ? v.toFixed(1) : v.toFixed(2)) : ""),
      },
    },
    {
      ...yCommon,
      gridIndex: 1,
      min: -27.2,
      max: 53.9,
      splitNumber: 4,
      minorTick: { show: false, splitNumber: 4 },
      name: "MACD",
      nameLocation: "middle",
      nameGap: 90,
      nameTextStyle: { color: LABEL, fontSize: 19, fontFamily: FONT },
      axisLabel: {
        ...labelStyle,
        showMinLabel: false,
        formatter: (v: number) => (Math.abs(v % 20) < 1e-6 ? v.toFixed(2) : ""),
      },
    },
    {
      ...yCommon,
      gridIndex: 2,
      min: 0,
      max: 84000,
      interval: 25000,
      minorTick: { show: false, splitNumber: 3 },
      name: "vol",
      nameLocation: "middle",
      nameGap: 107,
      nameTextStyle: { color: LABEL, fontSize: 19, fontFamily: FONT },
      axisLabel: {
        ...labelStyle,
        formatter: (v: number) => (v % 25000 === 0 ? (v === 0 ? "0" : v + "M") : ""),
      },
    },
  ];

  const bandArea = {
    silent: true,
    itemStyle: { color: "#05330f" },
    data: [[{ xAxis: wk(ENTRY_WEEK) }, { xAxis: wk(BAND_END_WEEK) }]],
  };
  const verticalLines = {
    silent: true,
    symbol: ["none", "none"],
    label: { show: false },
    data: [
      { xAxis: wk(ENTRY_WEEK), lineStyle: { color: GREEN, width: 4.2, type: "solid" } },
      { xAxis: wk(BAND_END_WEEK), lineStyle: { color: GREEN, width: 3, type: "solid" } },
    ],
  };
  const dummy = (xi: number, yi: number, y0: number, extra: any) => ({
    type: "line",
    xAxisIndex: xi,
    yAxisIndex: yi,
    data: [[wk(0), y0]],
    symbol: "none",
    lineStyle: { opacity: 0 },
    silent: true,
    clip: false,
    ...extra,
  });
  const levelLabel = { show: true, position: "end", distance: 12, fontSize: 20, fontFamily: FONT };
  const textPoint = (w: number, v: number, text: string, color: string) => ({
    type: "scatter",
    xAxisIndex: 0,
    yAxisIndex: 0,
    data: [[wk(w), v]],
    symbol: "circle",
    symbolSize: 0.01,
    z: 9,
    silent: true,
    itemStyle: { color, opacity: 1 },
    label: { show: true, position: "right", distance: 0, formatter: text, color, opacity: 1, fontSize: 20, fontFamily: FONT },
  });

  const series: any[] = [
    // ----- price panel -----
    dummy(0, 0, 50, { z: 1, markArea: bandArea }),
    {
      type: "candlestick",
      xAxisIndex: 0,
      yAxisIndex: 0,
      data: candleData,
      barWidth: 3,
      z: 3,
      itemStyle: { color: UP, color0: DOWN, borderColor: UP, borderColor0: DOWN, borderWidth: 1.2 },
    },
    {
      type: "line",
      name: "20W EMA",
      xAxisIndex: 0,
      yAxisIndex: 0,
      data: toXY(ema20),
      symbol: "none",
      z: 4,
      lineStyle: { color: "#d4d4d4", width: 2.3 },
    },
    {
      type: "line",
      name: "50W SMA",
      xAxisIndex: 0,
      yAxisIndex: 0,
      data: toXY(sma50),
      symbol: "none",
      z: 4,
      lineStyle: { color: "#6e6e6e", width: 2.3, type: [9, 6] },
    },
    dummy(0, 0, 50, {
      z: 5,
      markLine: {
        silent: true,
        symbol: ["none", "none"],
        data: [
          { yAxis: TARGET, lineStyle: { color: GREEN_DIM, width: 2.8, type: "solid" }, label: { ...levelLabel, color: "#1fe64f", formatter: "high  " + TARGET.toFixed(1) } },
          { yAxis: ENTRY, lineStyle: { color: "#b4b4b4", width: 2, type: "solid" }, label: { ...levelLabel, color: "#e0e0e0", formatter: "entry  " + ENTRY.toFixed(1) } },
          { yAxis: STOP, lineStyle: { color: RED_DIM, width: 2.8, type: "solid" }, label: { ...levelLabel, color: "#ff2150", formatter: "low  " + STOP.toFixed(1) } },
        ],
      },
    }),
    dummy(0, 0, 50, { z: 6, markLine: verticalLines }),
    {
      type: "line",
      xAxisIndex: 0,
      yAxisIndex: 0,
      data: [[wk(ENTRY_WEEK), TARGET], [wk(LAST_WEEK), TARGET]],
      symbol: "none",
      z: 7,
      lineStyle: { color: GREEN, width: 6.7 },
    },
    {
      type: "line",
      xAxisIndex: 0,
      yAxisIndex: 0,
      data: [[wk(EXIT_WEEK), STOP], [wk(LAST_WEEK), STOP]],
      symbol: "none",
      z: 7,
      lineStyle: { color: RED, width: 6.7 },
    },
    {
      type: "candlestick",
      xAxisIndex: 0,
      yAxisIndex: 0,
      data: [[wk(EXIT_WEEK), opens[EXIT_WEEK], closes[EXIT_WEEK], lows[EXIT_WEEK], highs[EXIT_WEEK]]],
      barWidth: 4.5,
      z: 8,
      itemStyle: { color: GREEN, color0: GREEN, borderColor: GREEN, borderColor0: GREEN, borderWidth: 2.8 },
    },
    {
      type: "line",
      xAxisIndex: 0,
      yAxisIndex: 0,
      data: [[wk(144.97), 165.3], [wk(148.77), 175.2]],
      symbol: "none",
      z: 8,
      lineStyle: { color: GREEN, width: 2 },
    },
    {
      type: "scatter",
      xAxisIndex: 0,
      yAxisIndex: 0,
      data: [[wk(ENTRY_WEEK), ENTRY]],
      symbol: "circle",
      symbolSize: 15.5,
      z: 9,
      itemStyle: { color: "#000", borderColor: GREEN, borderWidth: 2.6 },
    },
    {
      type: "scatter",
      xAxisIndex: 0,
      yAxisIndex: 0,
      data: [[wk(EXIT_WEEK), STOP]],
      symbol: "path://M0,0L10,10M10,0L0,10",
      symbolSize: 13,
      z: 9,
      itemStyle: { color: "rgba(0,0,0,0)", borderColor: "#e6e6e6", borderWidth: 2.5 },
    },
    textPoint(148.6, 182.9, "print", "#1cf54a"),
    textPoint(148.05, 153.7, "exit loss", "#7c7c7c"),

    // ----- MACD panel -----
    dummy(2, 1, 0, { z: 1, markArea: bandArea }),
    {
      type: "bar",
      xAxisIndex: 2,
      yAxisIndex: 1,
      data: histData,
      barWidth: 4.5,
      z: 2,
      itemStyle: { color: (p: any) => (p.value[1] >= 0 ? "#858585" : "#555555") },
    },
    dummy(2, 1, 0, {
      z: 3,
      markLine: {
        silent: true,
        symbol: ["none", "none"],
        label: { show: false },
        data: [{ yAxis: 0, lineStyle: { color: "#3e3e3e", width: 2, type: "solid" } }],
      },
    }),
    {
      type: "line",
      name: "signal",
      xAxisIndex: 2,
      yAxisIndex: 1,
      data: toXY(signalLine),
      symbol: "none",
      z: 4,
      lineStyle: { color: "#7a7a7a", width: 2 },
    },
    {
      type: "line",
      name: "MACD",
      xAxisIndex: 2,
      yAxisIndex: 1,
      data: macdData,
      symbol: "none",
      z: 5,
      lineStyle: { color: "#e8e8e8", width: 2.2 },
    },
    dummy(2, 1, 0, { z: 6, markLine: verticalLines }),

    // ----- volume panel -----
    dummy(4, 2, 0, { z: 1, markArea: bandArea }),
    {
      type: "bar",
      xAxisIndex: 4,
      yAxisIndex: 2,
      data: volData,
      barWidth: 4.5,
      z: 2,
      itemStyle: { color: (p: any) => (closes[p.dataIndex] >= opens[p.dataIndex] ? "#8a8a8a" : "#505050") },
    },
    {
      type: "line",
      xAxisIndex: 4,
      yAxisIndex: 2,
      data: toXY(volMa),
      symbol: "none",
      z: 4,
      lineStyle: { color: "#d2d2d2", width: 2 },
    },
    dummy(4, 2, 0, { z: 6, markLine: verticalLines }),
  ];

  const txt = (x: number, y: number, text: string, size: number, fill: string, align = "left", z = 10) => ({
    type: "text",
    x,
    y,
    z,
    silent: true,
    style: { text, fontSize: size, fontFamily: FONT, fill, align, verticalAlign: "middle" },
  });
  const seg = (x1: number, x2: number, y: number, stroke: string, w: number, dash?: number[], z = 10) => ({
    type: "line",
    z,
    silent: true,
    shape: { x1, y1: y, x2, y2: y },
    style: { stroke, lineWidth: w, lineDash: dash || null },
  });

  const graphic = [
    txt(167, 65.5, "protocol solana", 30.4, "#e6e6e6"),
    txt(403, 65.5, "·", 30.4, "#e6e6e6", "center"),
    txt(433, 65.5, "W", 30.4, "#e6e6e6"),
    txt(489, 65.5, "·", 30.4, "#e6e6e6", "center"),
    txt(518, 65.5, "20-week EMA pullback in an uptrend", 30.4, "#e6e6e6"),
    txt(167, 103.5, "2024-06-09", 21, "#8c8c8c"),
    txt(301, 103.5, "last " + LAST.toFixed(1), 21, "#8c8c8c"),
    txt(416.5, 103.5, "entry " + ENTRY.toFixed(1), 21, "#8c8c8c"),
    txt(547, 103.5, "stop " + STOP.toFixed(1), 21, "#8c8c8c"),
    txt(671, 103.5, "target " + TARGET.toFixed(1), 21, "#8c8c8c"),
    // price legend
    seg(188, 227, 183.5, "#d4d4d4", 2.5),
    txt(242, 183.5, "20W EMA", 20, "#c4c4c4"),
    seg(379, 417, 183.5, "#6e6e6e", 2.5, [7, 5]),
    txt(435, 183.5, "50W SMA", 20, "#c4c4c4"),
    // macd legend
    seg(182, 223, 992, "#e8e8e8", 2.5, undefined, 1),
    txt(236, 992, "MACD", 20, "#a6a6a6", "left", 1),
    seg(326, 367, 992, "#7a7a7a", 2.5, undefined, 1),
    txt(382, 992, "signal", 20, "#a6a6a6", "left", 1),
  ];

  return {
    animation: false,
    backgroundColor: "#000000",
    textStyle: { fontFamily: FONT },
    grid: GRIDS.map((g) => ({ ...g, show: true, borderColor: "#333333", borderWidth: 1.5, backgroundColor: "transparent", containLabel: false })),
    xAxis: xAxes,
    yAxis: yAxes,
    series,
    graphic,
  };
}

export default function App() {
  const ref = useRef<HTMLDivElement>(null);
  useEffect(() => {
    const chart = echarts.init(ref.current as HTMLDivElement, null, { renderer: "svg" });
    chart.setOption(buildOption() as any);
    return () => chart.dispose();
  }, []);
  return (
    <div style={{ position: "fixed", left: 0, top: 0, width: 2376, height: 1548, background: "#000" }}>
      <div ref={ref} style={{ width: 2376, height: 1548 }} />
    </div>
  );
}
